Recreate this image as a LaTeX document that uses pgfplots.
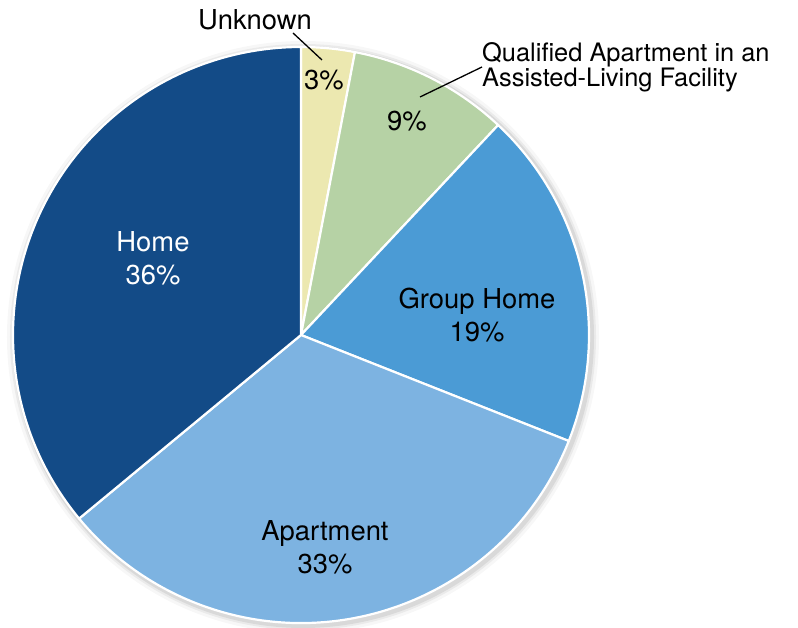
\documentclass[border=0pt]{standalone}
\usepackage{pgfplots}
\usepackage{pgfplotstable}
\pgfplotsset{compat=1.18}
\usepackage{fontspec}
\setmainfont{TeX Gyre Heros}

\definecolor{cHome}{HTML}{134B87}
\definecolor{cApt}{HTML}{7DB3E1}
\definecolor{cGroup}{HTML}{4B9BD5}
\definecolor{cQual}{HTML}{B6D2A5}
\definecolor{cUnk}{HTML}{ECE8B0}

% shares in percent, clockwise from 12 o'clock
\pgfplotstableread{
label share color
Unknown 3 cUnk
Qualified 9 cQual
Group 19 cGroup
Apartment 33 cApt
Home 36 cHome
}\piedata

\begin{document}
\begin{tikzpicture}
\begin{axis}[
    x=1bp, y=1bp,
    xmin=0, xmax=798, ymin=0, ymax=628,
    scale only axis,
    hide axis,
    clip=false,
]
\pgfplotsextra{%
  % soft shadow
  \foreach \r/\o in {296/0.03,293/0.05,291/0.07}{%
    \fill[black, opacity=\o] (axis cs:303,291) circle[radius=\r bp];
  }%
  \gdef\startang{90}%
  \pgfplotstablegetrowsof{\piedata}%
  \pgfmathtruncatemacro\lastrow{\pgfplotsretval-1}%
  \foreach \i in {0,...,\lastrow}{%
    \pgfplotstablegetelem{\i}{share}\of\piedata
    \pgfmathsetmacro\endang{\startang-3.6*\pgfplotsretval}%
    \pgfplotstablegetelem{\i}{color}\of\piedata
    \edef\slicecol{\pgfplotsretval}%
    \fill[fill=\slicecol, draw=white, line width=2.2bp, line join=round]
      (axis cs:301,293) -- ++(\startang:288bp)
      arc[start angle=\startang, end angle=\endang, radius=288bp] -- cycle;
    \xdef\startang{\endang}%
  }%
  % leader lines
  \draw[line width=1.3bp] (axis cs:293,595) -- (axis cs:322,568);
  \draw[line width=1.3bp] (axis cs:420,531) -- (axis cs:482,561);
}
\begin{scope}[every node/.style={inner sep=0pt, font=\fontsize{27.5}{33}\selectfont, align=center}]
\node at (axis cs:255,608) {Unknown};
\node at (axis cs:324,548) {3\%};
\node at (axis cs:407,507) {9\%};
\node[anchor=west, align=left, font=\fontsize{25.5}{25.5}\selectfont] at (axis cs:482,561)
  {Qualified Apartment in an\\Assisted-Living Facility};
\node[white] at (axis cs:153,370) {Home\\36\%};
\node at (axis cs:477,313) {Group Home\\19\%};
\node at (axis cs:325,81) {Apartment\\33\%};
\end{scope}
\end{axis}
\pgfresetboundingbox
\path (current axis.south west) rectangle (current axis.north east);
\end{tikzpicture}
\end{document}
